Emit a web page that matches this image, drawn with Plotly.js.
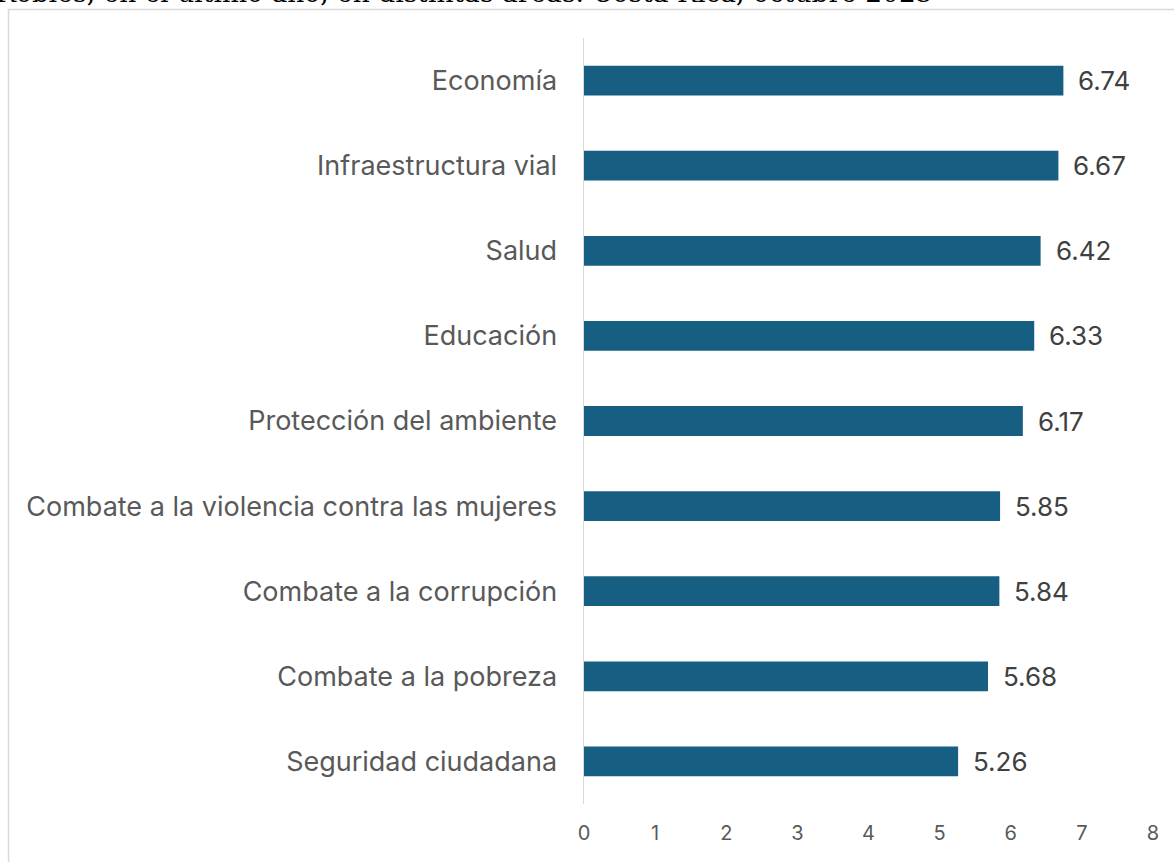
<!DOCTYPE html>
<html>
<head>
<meta charset="utf-8">
<script src="https://cdn.plot.ly/plotly-3.0.1.min.js"></script>
<style>html,body{margin:0;padding:0;background:#fff;}#chart{width:1174px;height:862px;}</style>
</head>
<body>
<div id="chart"></div>
<script>
const categories = ["Economía","Infraestructura vial","Salud","Educación","Protección del ambiente","Combate a la violencia contra las mujeres","Combate a la corrupción","Combate a la pobreza","Seguridad ciudadana"];
const values = [6.74, 6.67, 6.42, 6.33, 6.17, 5.85, 5.84, 5.68, 5.26];
const tickValues = [0,1,2,3,4,5,6,7,8];
const titleText = "Robles, en el último año, en distintas áreas. Costa Rica, octubre 2025";

const FONT = 'Inter, sans-serif';

const trace = {
  type: 'bar',
  orientation: 'h',
  x: values,
  y: categories,
  marker: {color: '#175f82', line: {width: 0}},
  width: 0.35,
  hoverinfo: 'x+y'
};

const annotations = values.map((v, i) => ({
  x: v, y: categories[i], xref: 'x', yref: 'y',
  text: v.toFixed(2), showarrow: false, xanchor: 'left', xshift: 13,
  font: {family: FONT, size: 26, color: '#404040'}
}));
annotations.push({
  xref: 'paper', yref: 'paper', x: -1.0369, y: 1.0372, xanchor: 'left', yanchor: 'bottom',
  text: titleText, showarrow: false,
  font: {family: '"DejaVu Serif", serif', size: 26.5, color: '#000'}
});

const layout = {
  width: 1174, height: 862,
  margin: {l: 584, r: 21, t: 38, b: 58},
  paper_bgcolor: '#fff', plot_bgcolor: '#fff',
  showlegend: false,
  xaxis: {
    range: [0, 8], tickvals: tickValues, ticktext: tickValues.map(String),
    showgrid: false, zeroline: false, showline: false,
    ticks: 'outside', ticklen: 11, tickcolor: 'rgba(0,0,0,0)',
    tickfont: {family: FONT, size: 20, color: '#595959'},
    fixedrange: true
  },
  yaxis: {
    autorange: 'reversed', type: 'category',
    showgrid: false, zeroline: false,
    showline: true, linecolor: '#d9d9d9', linewidth: 1.5,
    ticks: 'outside', ticklen: 20, tickcolor: 'rgba(0,0,0,0)',
    tickfont: {family: FONT, size: 27, color: '#595959'},
    fixedrange: true
  },
  annotations: annotations,
  shapes: [{
    type: 'rect', xref: 'paper', yref: 'paper',
    x0: -1.0114, x1: 1.2, y0: -0.2, y1: 1.0372,
    line: {color: '#d9d9d9', width: 1.5}, fillcolor: 'rgba(0,0,0,0)', layer: 'below'
  }]
};

Plotly.newPlot('chart', [trace], layout, {displayModeBar: false, staticPlot: true});
</script>
</body>
</html>
